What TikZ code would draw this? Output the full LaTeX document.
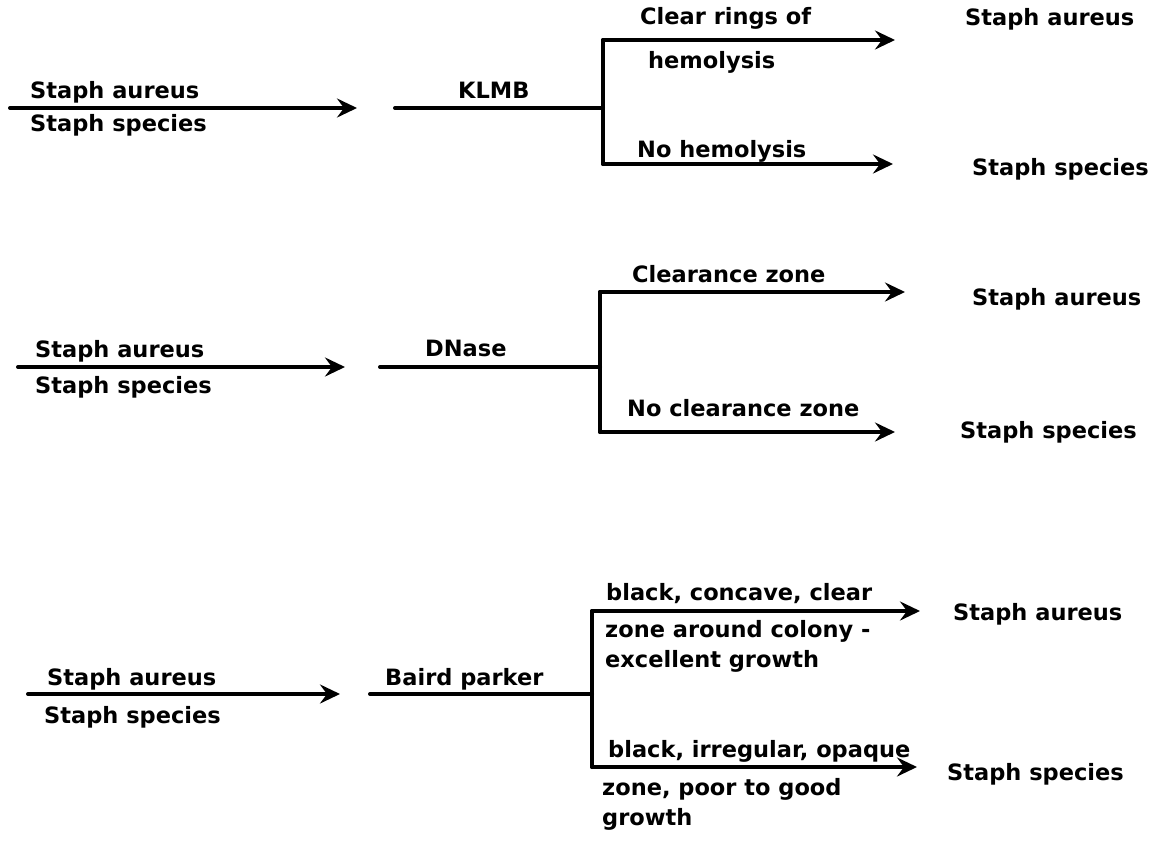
\documentclass[tikz,border=0pt]{standalone}
\usepackage{fontspec}
\setmainfont{DejaVu Sans}
\usetikzlibrary{arrows.meta}
\begin{document}
\begin{tikzpicture}[x=1pt,y=-1pt,
  lbl/.style={anchor=base west,inner sep=0pt,font=\fontsize{22.5}{26}\selectfont\bfseries},
  wire/.style={line width=4pt,line cap=round},
  arr/.style={wire,-{Stealth[length=20pt,width=19pt,inset=7pt]}}]
\useasboundingbox (0,0) rectangle (1159,847);

% ---- KLMB ----
\coordinate (r1in) at (10,108);
\coordinate (r1out) at (357,108);
\coordinate (r1s) at (395,108);
\coordinate (r1j) at (603,108);
\coordinate (r1t) at (603,40);
\coordinate (r1b) at (603,164);
\coordinate (r1te) at (895,40);
\coordinate (r1be) at (893,164);
\node[lbl] (r1a) at (30,98) {Staph aureus};
\node[lbl] (r1sp) at (30,131) {Staph species};
\node[lbl] (r1m) at (458,98) {KLMB};
\node[lbl] (r1l1) at (640,24) {Clear rings of};
\node[lbl] (r1l2) at (648,68) {hemolysis};
\node[lbl] (r1l3) at (637,157) {No hemolysis};
\node[lbl] (r1ra) at (965,25) {Staph aureus};
\node[lbl] (r1rs) at (972,175) {Staph species};
\draw[arr] (r1in) -- (r1out);
\draw[wire] (r1s) -- (r1j);
\draw[wire] (r1t) -- (r1b);
\draw[arr] (r1t) -- (r1te);
\draw[arr] (r1b) -- (r1be);

% ---- DNase ----
\coordinate (r2in) at (18,367);
\coordinate (r2out) at (345,367);
\coordinate (r2s) at (380,367);
\coordinate (r2j) at (600,367);
\coordinate (r2t) at (600,292);
\coordinate (r2b) at (600,432);
\coordinate (r2te) at (905,292);
\coordinate (r2be) at (895,432);
\node[lbl] (r2a) at (35,357) {Staph aureus};
\node[lbl] (r2sp) at (35,393) {Staph species};
\node[lbl] (r2m) at (425,356) {DNase};
\node[lbl] (r2l1) at (632,282) {Clearance zone};
\node[lbl] (r2l2) at (627,416) {No clearance zone};
\node[lbl] (r2ra) at (972,305) {Staph aureus};
\node[lbl] (r2rs) at (960,438) {Staph species};
\draw[arr] (r2in) -- (r2out);
\draw[wire] (r2s) -- (r2j);
\draw[wire] (r2t) -- (r2b);
\draw[arr] (r2t) -- (r2te);
\draw[arr] (r2b) -- (r2be);

% ---- Baird parker ----
\coordinate (r3in) at (28,694);
\coordinate (r3out) at (340,694);
\coordinate (r3s) at (370,694);
\coordinate (r3j) at (592,694);
\coordinate (r3t) at (592,611);
\coordinate (r3b) at (592,767);
\coordinate (r3te) at (920,611);
\coordinate (r3be) at (917,767);
\node[lbl] (r3a) at (47,685) {Staph aureus};
\node[lbl] (r3sp) at (44,723) {Staph species};
\node[lbl] (r3m) at (385,685) {Baird parker};
\node[lbl] (r3l1) at (606,600) {black, concave, clear};
\node[lbl] (r3l2) at (605,637) {zone around colony -};
\node[lbl] (r3l3) at (605,667) {excellent growth};
\node[lbl] (r3l4) at (608,757) {black, irregular, opaque};
\node[lbl] (r3l5) at (602,795) {zone, poor to good};
\node[lbl] (r3l6) at (602,825) {growth};
\node[lbl] (r3ra) at (953,620) {Staph aureus};
\node[lbl] (r3rs) at (947,780) {Staph species};
\draw[arr] (r3in) -- (r3out);
\draw[wire] (r3s) -- (r3j);
\draw[wire] (r3t) -- (r3b);
\draw[arr] (r3t) -- (r3te);
\draw[arr] (r3b) -- (r3be);
\end{tikzpicture}
\end{document}
